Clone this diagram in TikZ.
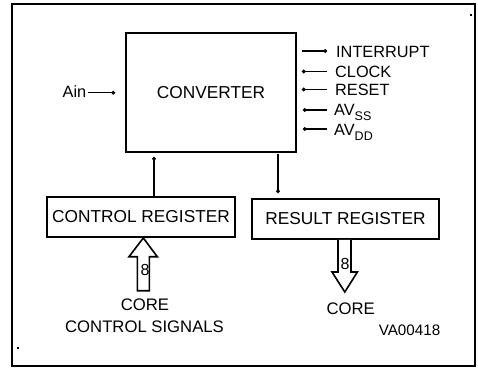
\documentclass[tikz,border=0pt]{standalone}
\usepackage{fontspec}
\setmainfont{Liberation Sans}
\usetikzlibrary{arrows.meta}
\begin{document}
\begin{tikzpicture}[x=1pt,y=-1pt,
  txt/.style={inner sep=0pt,font=\fontsize{16.3}{19}\selectfont},
  btxt/.style={inner sep=0pt,font=\fontsize{16.7}{19}\selectfont},
  small/.style={inner sep=0pt,font=\fontsize{15.2}{18}\selectfont},
  box/.style={draw,line width=1.9pt,inner sep=0pt,font=\fontsize{17.3}{20}\selectfont},
  wire/.style={line width=1.5pt},
  dotend/.style={wire,-{Circle[length=3.6pt]}},
  dotstart/.style={wire,{Circle[length=3.6pt]}-},
  bus/.style={draw,line width=1.6pt,fill=white}]
\useasboundingbox (0,0) rectangle (478,368);
\draw[line width=1.9pt] (12,3.8) rectangle (475.3,366.2);
\fill (470,14) rectangle (472,16);
\fill (17,347) rectangle (19,349);
% converter
\node[box,minimum width=170pt,minimum height=119pt] (conv) at (211,92.5) {CONVERTER};
% registers
\node[box,minimum width=188pt,minimum height=40pt] (creg) at (141,217) {CONTROL REGISTER};
\node[box,minimum width=187pt,minimum height=40pt] (rreg) at (345.5,219) {RESULT REGISTER};
% Ain
\node[txt,anchor=base east] (ain) at (86.5,97.3) {Ain};
\coordinate (ainend) at (115,92.7);
\draw[dotend] (ain.east |- ainend) ++(1.5,0) -- (ainend);
% right side signals
\node[txt,anchor=base west] (int) at (336,57) {INTERRUPT};
\node[txt,anchor=base west] (clk) at (335,77.5) {CLOCK};
\node[txt,anchor=base west] (rst) at (335,95.5) {RESET};
\node[txt,anchor=base west] (avss) at (334,115.7) {AV\raisebox{-5pt}{\fontsize{12.5}{14}\selectfont SS}};
\node[txt,anchor=base west] (avdd) at (334,135) {AV\raisebox{-5pt}{\fontsize{12.5}{14}\selectfont DD}};
\coordinate (i1) at (302,51); \coordinate (i2) at (327,51);
\coordinate (c1) at (302,71.5); \coordinate (c2) at (327,71.5);
\coordinate (r1) at (302,89.5); \coordinate (r2) at (327,89.5);
\coordinate (s1) at (303,110); \coordinate (s2) at (327,110);
\coordinate (d1) at (303,129); \coordinate (d2) at (327,129);
\draw[dotend] (i1) -- (i2);
\draw[dotstart] (c1) -- (c2);
\draw[dotstart] (r1) -- (r2);
\draw[dotstart] (s1) -- (s2);
\draw[dotstart] (d1) -- (d2);
% vertical connections
\coordinate (cup) at (154,157);
\draw[dotend] (creg.north -| cup) -- (cup);
\coordinate (rtop) at (278,154);
\coordinate (rbot) at (278,193);
\draw[dotend] (rtop) -- (rbot);
% bus arrows
\draw[bus] (137.3,290.7) -- (137.3,256.7) -- (129,256.7) -- (creg.south -| 143.3,0) -- (157.3,256.7) -- (149.3,256.7) -- (149.3,290.7) -- cycle;
\node[txt,font=\fontsize{16}{19}\selectfont] (n8a) at (145,270) {8};
\draw[bus] (rreg.south -| 338,0) -- (338,272) -- (332,272) -- (344.8,292) -- (357.4,272) -- (351,272) -- (rreg.south -| 351,0);
\node[txt,font=\fontsize{16}{19}\selectfont] (n8b) at (345,264) {8};
% texts
\node[btxt,anchor=base] (core1) at (145,310.7) {CORE};
\node[btxt,anchor=base] (core2) at (144.5,332.7) {CONTROL SIGNALS};
\node[btxt,anchor=base] (core3) at (350.7,314.3) {CORE};
\node[small,anchor=base] (va) at (409.5,335.3) {VA00418};
\end{tikzpicture}
\end{document}
